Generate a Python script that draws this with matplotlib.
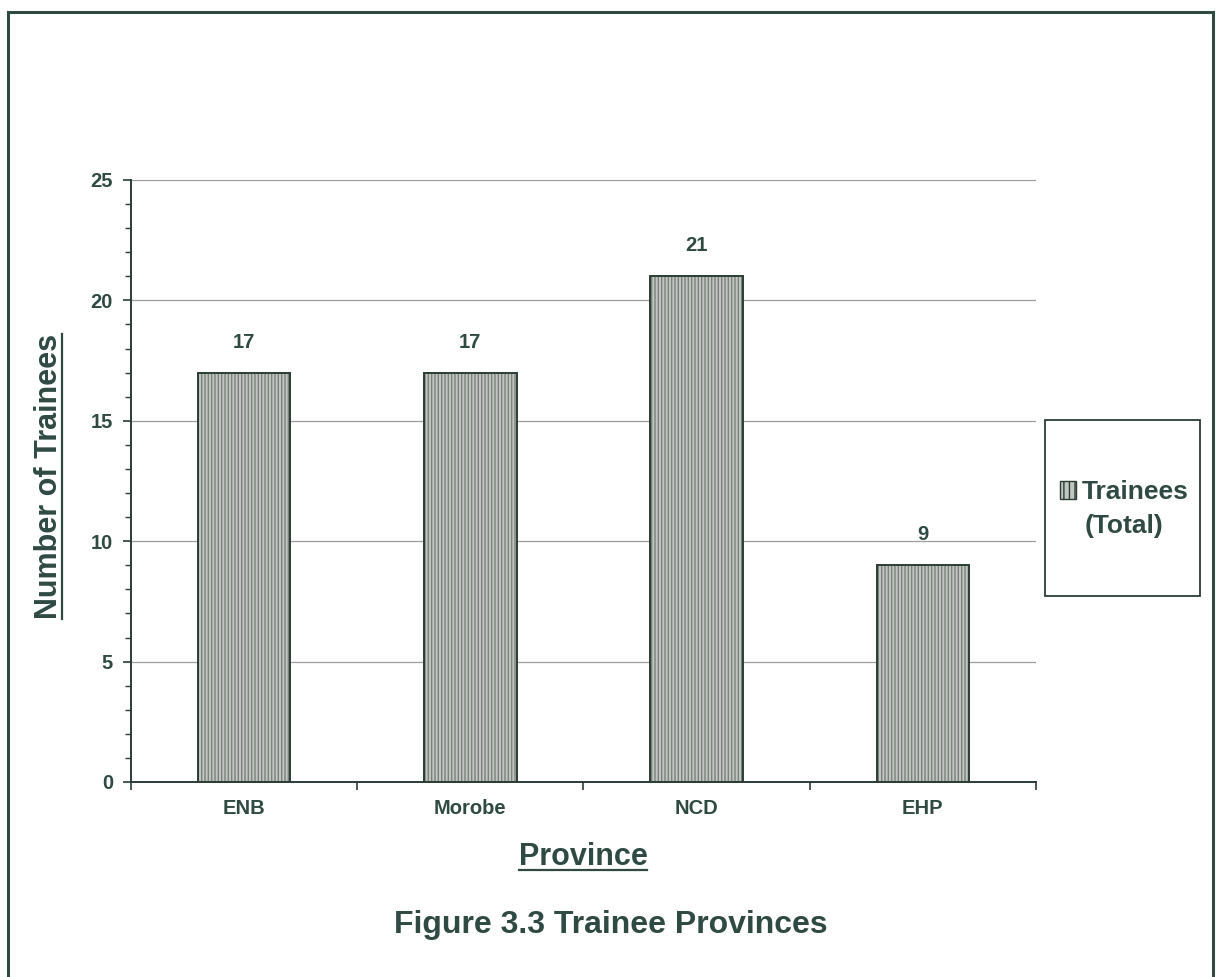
import numpy as np
import matplotlib
matplotlib.use('Agg')
import matplotlib.pyplot as plt
from matplotlib.patches import Rectangle, Patch
from matplotlib.lines import Line2D

# data
provinces = ['ENB', 'Morobe', 'NCD', 'EHP']
trainees = [17, 17, 21, 9]
series_name = 'Trainees'
series_sub = '(Total)'

txt_col = '#2e4a42'
face_col = '#c2c6c2'
hatch_col = '#7a807a'
edge_col = '#2a3d35'

plt.rcParams['font.family'] = ['Liberation Sans', 'DejaVu Sans']
plt.rcParams['font.weight'] = 'bold'
plt.rcParams['hatch.linewidth'] = 1.0

fig = plt.figure(figsize=(12.17, 9.77), dpi=100)
ax = fig.add_axes([0.1076, 0.1996, 0.7437, 0.6162])

x = np.arange(len(provinces))
# hatched fill first, then the outline on top
ax.bar(x, trainees, width=0.41, color=face_col, edgecolor=hatch_col,
       hatch='|||||', linewidth=0, zorder=2)
ax.bar(x, trainees, width=0.41, fill=False, edgecolor=edge_col,
       linewidth=1.4, zorder=3)

for xi, v in zip(x, trainees):
    ax.annotate(str(v), (xi, v), xytext=(0, 22), textcoords='offset points',
                ha='center', va='center', fontsize=14.5, color=txt_col,
                fontweight='bold')

ax.set_xlim(-0.5, len(provinces) - 0.5)
ax.set_ylim(0, 25)
ax.set_yticks(np.arange(0, 26, 5))
ax.set_yticks(np.arange(0, 26, 1), minor=True)
ax.yaxis.grid(True, which='major', color='#9c9c9c', linewidth=0.9, zorder=0)
ax.set_axisbelow(True)

ax.set_xticks(np.arange(-0.5, len(provinces), 1))
ax.set_xticklabels([])
ax.set_xticks(x, minor=True)
ax.set_xticklabels(provinces, minor=True)
ax.tick_params(axis='x', which='major', length=6, width=1.2, color=edge_col)
ax.tick_params(axis='x', which='minor', length=0, pad=12, labelsize=14.5,
               labelcolor=txt_col)
ax.tick_params(axis='y', which='major', length=6, width=1.2, color=edge_col,
               pad=7, labelsize=14.5, labelcolor=txt_col)
ax.tick_params(axis='y', which='minor', length=4, width=1.0, color=edge_col)

for s in ['top', 'right']:
    ax.spines[s].set_visible(False)
for s in ['left', 'bottom']:
    ax.spines[s].set_color(edge_col)
    ax.spines[s].set_linewidth(1.4)

ylab = fig.text(0.040, 0.512, 'Number of Trainees', rotation=90, ha='center',
                va='center', fontsize=22, color=txt_col, fontweight='bold')
xlab = fig.text(0.479, 0.1228, 'Province', ha='center', va='center',
                fontsize=22, color=txt_col, fontweight='bold')
fig.text(0.502, 0.0532, 'Figure 3.3 Trainee Provinces', ha='center',
         va='center', fontsize=23, color=txt_col, fontweight='bold')

# legend box on the right
fig.patches.append(Rectangle((1045 / 1217, 1 - 596 / 977), 155 / 1217,
                             176 / 977, transform=fig.transFigure,
                             facecolor='white', edgecolor=edge_col,
                             linewidth=1.3))
handle = Patch(facecolor=face_col, edgecolor=edge_col, hatch='|||',
               linewidth=1.0)
leg = fig.legend([handle], [series_name], loc='center',
                 bbox_to_anchor=(1124 / 1217, 1 - 492 / 977),
                 frameon=False, fontsize=19, handlelength=0.62,
                 handleheight=0.7, handletextpad=0.2, labelcolor=txt_col,
                 borderpad=0, borderaxespad=0)

# outer frame
fig.patches.append(Rectangle((8 / 1217, -0.02), 1205 / 1217, 1 - 12 / 977 + 0.02,
                             transform=fig.transFigure, fill=False,
                             edgecolor='#2f4a40', linewidth=2.2))

fig.canvas.draw()
r = fig.canvas.get_renderer()
inv = fig.transFigure.inverted()

# second legend line, centred on the whole entry
lt = leg.get_texts()[0].get_window_extent(r)
(lx0, ly0), (lx1, ly1) = inv.transform([[lt.x0, lt.y0], [lt.x1, lt.y1]])
fig.text(1124 / 1217, ly0 - 0.0345, series_sub, ha='center', va='bottom',
         fontsize=19, color=txt_col, fontweight='bold')

# underline the axis titles
bb = xlab.get_window_extent(r)
(x0, y0), (x1, y1) = inv.transform([[bb.x0, bb.y0], [bb.x1, bb.y1]])
fig.add_artist(Line2D([x0, x1], [y0 + 0.002, y0 + 0.002], color=txt_col,
                      linewidth=1.6, transform=fig.transFigure))
bb = ylab.get_window_extent(r)
(x0, y0), (x1, y1) = inv.transform([[bb.x0, bb.y0], [bb.x1, bb.y1]])
fig.add_artist(Line2D([x1 - 0.001, x1 - 0.001], [y0, y1], color=txt_col,
                      linewidth=1.6, transform=fig.transFigure))

fig.savefig('out.png', dpi=100, facecolor='white')
